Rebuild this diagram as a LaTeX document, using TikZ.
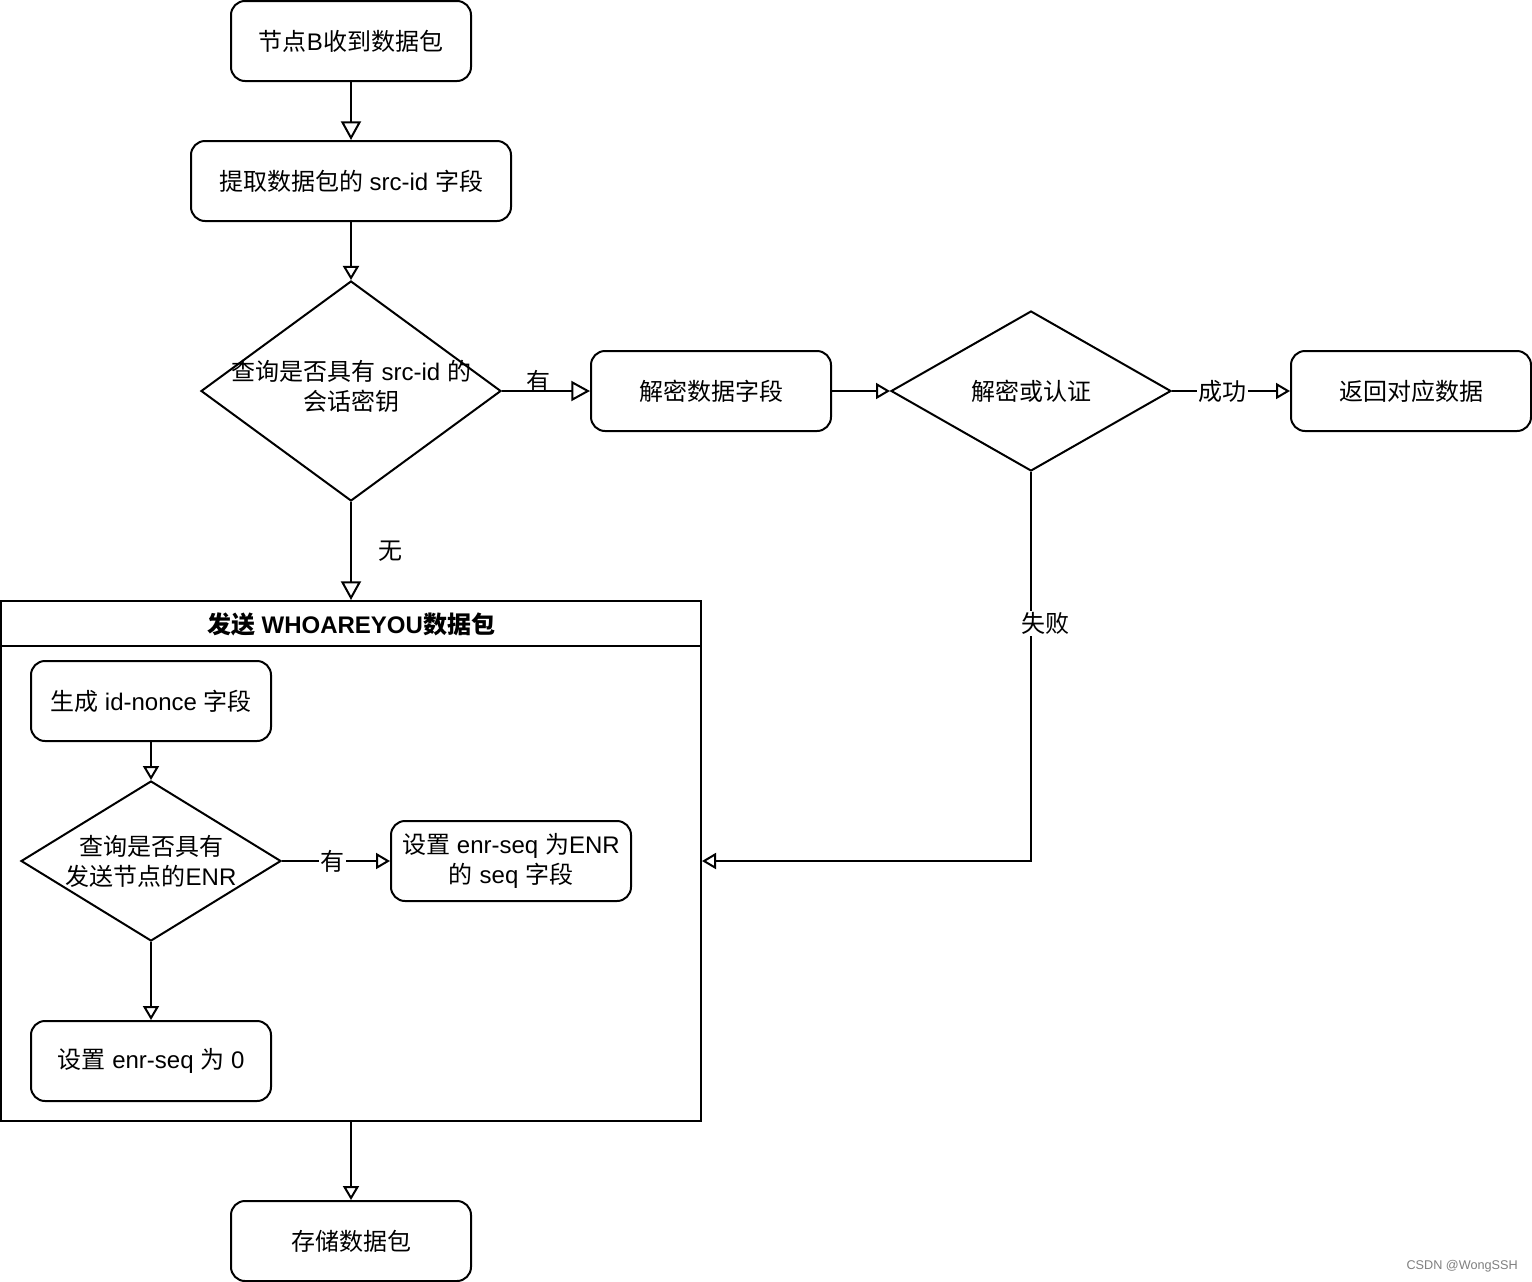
\documentclass[tikz,border=0pt]{standalone}
\usepackage{fontspec}
\setmainfont{Liberation Sans}
\newfontfamily\cjk{Noto Sans CJK SC}
\usetikzlibrary{arrows.meta,shapes.geometric}
\newcommand\zh[1]{{\cjk #1}}
\tikzset{
  mainfont/.style={font=\fontsize{18}{22.5}\selectfont},
  box/.style={draw, line width=1.5pt, rounded corners=10.5pt, minimum width=180pt, minimum height=60pt, inner sep=0pt, align=center, mainfont},
  dia/.style={draw, diamond, line width=1.5pt, inner sep=0pt},
  txt/.style={align=center, inner sep=0pt, mainfont},
  conn/.style={line width=1.5pt, -{Triangle[open, length=10.5pt, width=12pt]}},
  bigconn/.style={line width=1.5pt, -{Triangle[open, length=14pt, width=15pt]}},
  lbl/.style={inner sep=1pt, mainfont},
}
\begin{document}
\begin{tikzpicture}[x=0.75pt, y=-0.75pt]
\useasboundingbox (0,0) rectangle (1532,1282);
\fill[white] (0,0) rectangle (1532,1282);

% top flow
\node[box] (b1) at (351,41) {\zh{节点}B\zh{收到数据包}};
\node[box, minimum width=240pt] (b2) at (351,181) {\zh{提取数据包的} src-id \zh{字段}};
\node[dia, minimum width=225pt, minimum height=165pt] (d1) at (351,391) {};
\node[txt] (t1) at (351,386) {\zh{查询是否具有} src-id \zh{的}\\\zh{会话密钥}};
\node[box] (bdec) at (711,391) {\zh{解密数据字段}};
\node[dia, minimum width=210pt, minimum height=120pt] (d2) at (1031,391) {};
\node[txt] (t2) at (d2) {\zh{解密或认证}};
\node[box] (bret) at (1411,391) {\zh{返回对应数据}};

% container
\node[draw, line width=1.5pt, minimum width=525pt, minimum height=390pt, inner sep=0pt] (cont) at (351,861) {};
\draw[line width=1.5pt] ([yshift=-34.5pt]cont.north west) -- ([yshift=-34.5pt]cont.north east);
\node[txt, font=\fontsize{18}{22.5}\selectfont\bfseries] (title) at (351,624) {\zh{发送} WHOAREYOU\zh{数据包}};

\node[box] (bnonce) at (151,701) {\zh{生成} id-nonce \zh{字段}};
\node[dia, minimum width=195pt, minimum height=120pt] (d3) at (151,861) {};
\node[txt] (t3) at (d3) {\zh{查询是否具有}\\\zh{发送节点的}ENR};
\node[box] (benr) at (511,861) {\zh{设置} enr-seq \zh{为}ENR\\\zh{的} seq \zh{字段}};
\node[box] (bzero) at (151,1061) {\zh{设置} enr-seq \zh{为} 0};

\node[box] (bstore) at (351,1241) {\zh{存储数据包}};

% connectors
\draw[bigconn] (b1) -- (b2);
\draw[conn] (b2) -- (d1);
\draw[bigconn] (d1) -- node[lbl, pos=0.42, yshift=7.5pt] (l1) {\zh{有}} (bdec);
\draw[bigconn] (d1) -- node[lbl, midway, anchor=west, xshift=19pt] (l2) {\zh{无}} (cont);
\draw[conn] (bdec) -- (d2);
\draw[conn] (d2) -- node[lbl, fill=white, pos=0.43] (l3) {\zh{成功}} (bret);
\draw[conn] (d2.south) |- node[lbl, fill=white, pos=0.195, xshift=10.5pt] (l4) {\zh{失败}} (cont.east);
\draw[conn] (bnonce) -- (d3);
\draw[conn] (d3) -- node[lbl, fill=white, pos=0.47] (l5) {\zh{有}} (benr);
\draw[conn] (d3) -- (bzero);
\draw[conn] (cont) -- (bstore);

% watermark
\node[anchor=east, text=black!50, font=\fontsize{9.5}{11}\selectfont, inner sep=0pt] (wm) at (1518,1266) {CSDN @WongSSH};
\end{tikzpicture}
\end{document}
